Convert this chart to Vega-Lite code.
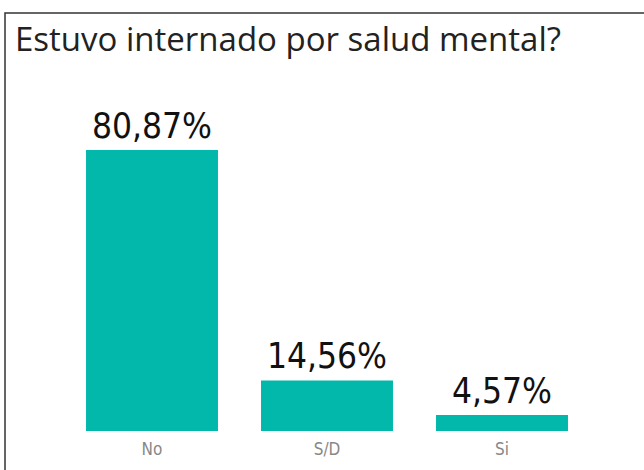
{
  "$schema": "https://vega.github.io/schema/vega-lite/v6.json",
  "autosize": "none",
  "width": 644,
  "height": 470,
  "padding": {"left": 5, "top": 13, "right": -5, "bottom": -13},
  "background": "white",
  "config": {
    "locale": {"number": {"decimal": ",", "thousands": ".", "grouping": [3], "currency": ["", " €"]}},
    "view": {"stroke": "#333", "strokeWidth": 1.5}
  },
  "title": {
    "text": "Estuvo internado por salud mental?",
    "anchor": "start",
    "frame": "group",
    "font": "Open Sans",
    "fontSize": 33,
    "fontWeight": "normal",
    "color": "#222",
    "dx": 10,
    "dy": 49
  },
  "data": {
    "values": [
      {"respuesta": "No", "pct": 0.8087},
      {"respuesta": "S/D", "pct": 0.1456},
      {"respuesta": "Si", "pct": 0.0457}
    ]
  },
  "encoding": {
    "x": {
      "field": "respuesta",
      "type": "nominal",
      "sort": null,
      "scale": {"paddingInner": 0.246, "paddingOuter": 0.463},
      "axis": {
        "title": null,
        "domain": false,
        "ticks": false,
        "labelAngle": 0,
        "labelFont": "DejaVu Sans Condensed",
        "labelFontSize": 17,
        "labelColor": "#888",
        "offset": -42,
        "labelPadding": 0
      }
    },
    "y": {
      "field": "pct",
      "type": "quantitative",
      "scale": {"domain": [-0.14965, 1.203], "nice": false, "zero": false},
      "axis": null
    }
  },
  "layer": [
    {"mark": {"type": "bar", "color": "#01B8AA"}},
    {
      "mark": {"type": "text", "baseline": "alphabetic", "dy": -12, "font": "DejaVu Sans Condensed", "fontSize": 35, "color": "#111"},
      "encoding": {"text": {"field": "pct", "type": "quantitative", "format": ".2%"}}
    }
  ]
}
